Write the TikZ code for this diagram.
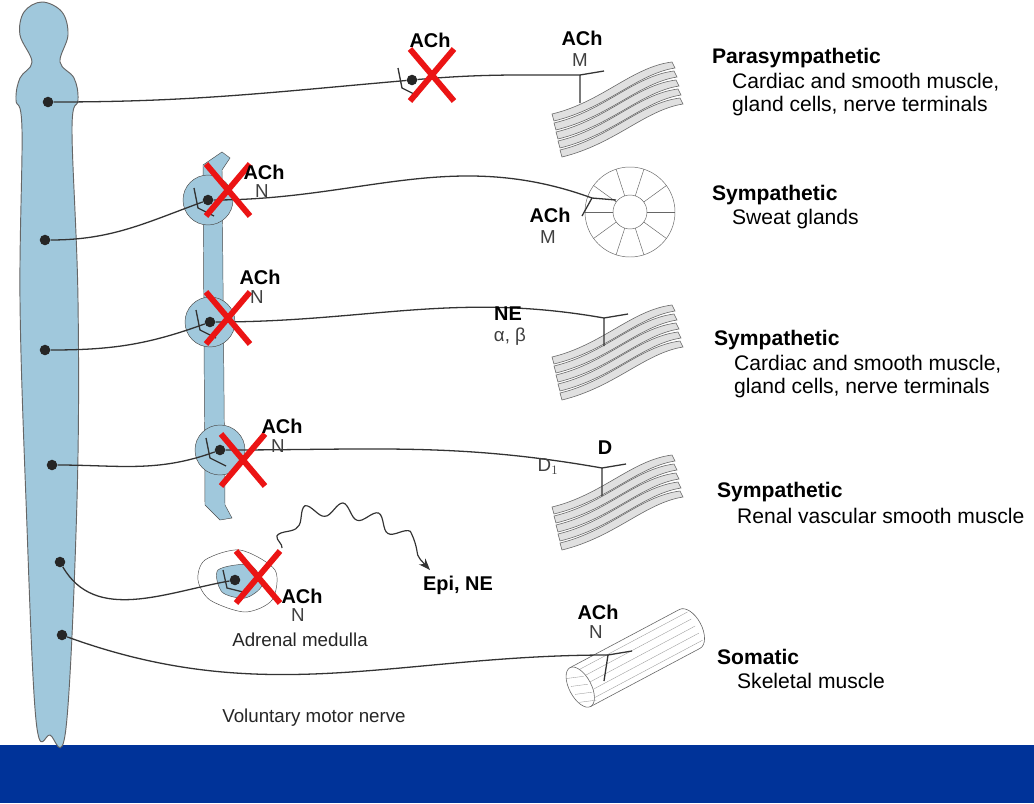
\documentclass[tikz,border=0pt]{standalone}
\usepackage{fontspec}
\setmainfont{Liberation Sans}
\usetikzlibrary{decorations.pathmorphing,arrows.meta}
\definecolor{cordblue}{RGB}{160,200,220}
\definecolor{barblue}{RGB}{0,51,153}
\definecolor{xred}{RGB}{235,20,20}
\begin{document}
\begin{tikzpicture}[x=0.03cm,y=-0.03cm,
    dot/.style={circle, fill=black!85, inner sep=0pt, minimum size=9pt},
    nerve/.style={black!80, line width=1.1pt},
    tissue/.style={draw=black!60, fill=black!12, line width=0.5pt},
    ganglion/.style={circle, draw=black!70, fill=cordblue, minimum size=50*0.03cm, inner sep=0pt},
    title/.style={anchor=west, font=\bfseries\fontsize{18}{20}\selectfont},
    sub/.style={anchor=west, font=\fontsize{18}{20}\selectfont},
    tx/.style={font=\bfseries\fontsize{17}{18}\selectfont},
    rc/.style={font=\fontsize{16}{18}\selectfont, text=black!75},
    cross/.style={xred, line width=5pt},
    muscle/.pic={
      \foreach \i in {0,...,4}
        \draw[tissue, shift={(\i*2,\i*9)}] (-60,22) .. controls (-10,10) and (20,-25) .. (60,-30)
          -- (63,-24) .. controls (25,-18) and (-5,16) .. (-58,29) -- cycle;
    }
  ]
    \useasboundingbox (0,0) rectangle (1034,803);
    \fill[white] (0,0) rectangle (1034,803);
    \fill[barblue] (0,745) rectangle (1034,803);

    % Spinal cord
    \draw[black!60, fill=cordblue, line width=0.8pt] plot[smooth cycle, tension=0.6] coordinates {
      (42,2) (62,12) (68,35) (60,62) (74,78) (78,100) (72,130) (78,300) (77,500) (66,728) (50,735)
      (36,720) (26,500) (20,300) (22,130) (16,100) (20,78) (32,62) (20,35) (24,12)};
    \foreach \n/\x/\y in {1/48/102, 2/45/240, 3/45/350, 4/52/465, 5/60/562, 6/62/635}
      \node[dot] (d\n) at (\x,\y) {};

    % Sympathetic chain
    \draw[black!70, fill=cordblue] (203,165) -- (222,152) -- (230,158) -- (222,170)
      -- (225,505) -- (232,518) -- (220,520) -- (205,505) -- cycle;
    \node[ganglion] (g2) at (208,200) {};
    \node[ganglion] (g3) at (210,322) {};
    \node[ganglion] (g4) at (220,450) {};
    \foreach \g in {g2,g3,g4}
      \node[dot] (\g d) at (\g) {};
    \node[dot] (g1d) at (412,80) {};

    % synapse forks at ganglia
    \foreach \g in {g1d,g2d,g3d,g4d}
      \draw[nerve] (\g)+(-14,-12) -- +(-10,8) -- +(6,16);

    % Preganglionic
    \draw[nerve] (d1) to[out=0,in=185] (g1d);
    \draw[nerve] (d2) to[out=0,in=200] (g2d);
    \draw[nerve] (d3) to[out=0,in=200] (g3d);
    \draw[nerve] (d4) to[out=0,in=200] (g4d);

    % Effectors
    \pic at (612,92) {muscle};
    \pic at (612,335) {muscle};
    \pic at (612,485) {muscle};
    \draw[black!60, fill=white] (630,212) circle (45) ;
    \draw[black!60] (630,212) circle (17);
    \foreach \a in {0,36,...,324}
      \draw[black!60] (630,212) ++(\a:17) -- ++(\a:28);

    \coordinate (e1) at (580,75);
    \coordinate (e2) at (592,198);
    \coordinate (e3) at (604,318);
    \coordinate (e4) at (602,468);
    \coordinate (e6) at (608,655);
    \draw[nerve] (g1d) to[out=5,in=180] (e1);
    \draw[nerve] (g2d) to[out=0,in=160] (e2);
    \draw[nerve] (g3d) to[out=0,in=170] (e3);
    \draw[nerve] (g4d) to[out=0,in=170] (e4);
    \foreach \e in {e1,e3,e4}
      \draw[nerve] (\e) -- ++(0,28) (\e) -- ++(24,-4);
    \draw[nerve] (e2) -- ++(-10,18) (e2) -- ++(24,2);

    % Somatic muscle
    \begin{scope}[shift={(635,658)}, rotate=28]
      \draw[tissue, fill=white] (-62,-22) -- (62,-22) arc (-90:90:12 and 22) -- (-62,22);
      \foreach \t in {-16,-8,...,16}
        \draw[black!40, line width=0.3pt] (-55,\t) -- (68,\t);
      \draw[tissue, fill=white] (-62,0) ellipse (11 and 22);
      \foreach \t in {-14,-5,4,13}
        \draw[black!40, line width=0.3pt] (-70,\t) -- (-54,\t+6);
    \end{scope}
    \draw[nerve] (d6) to[out=-20,in=180] (e6);
    \draw[nerve] (e6) -- ++(-4,26) (e6) -- ++(24,-4);

    % Adrenal medulla
    \draw[black!70, fill=white] plot[smooth cycle] coordinates {
      (205,560) (240,550) (275,570) (272,600) (245,612) (210,600) (198,580)};
    \draw[black!70, fill=cordblue] plot[smooth cycle] coordinates {
      (218,570) (250,565) (262,585) (245,598) (222,592)};
    \node[dot] (am) at (235,580) {};
    \draw[nerve] (am)+(-12,-10) -- +(-8,8) -- +(8,12);
    \draw[nerve] (d5) to[out=-60,in=190] (am);
    \coordinate (w0) at (282,548);
    \coordinate (w1) at (430,570);
    \draw[black!80, line width=1pt, -{Stealth[length=10pt]},
      decorate, decoration={snake, amplitude=6, segment length=30, post length=12}]
      (w0) .. controls (290,500) and (380,510) .. (w1);

    % Blocks
    \foreach \x/\y in {432/75, 228/190, 228/318, 243/460, 258/577}
      \draw[cross] (\x-22,\y-26) -- (\x+22,\y+26) (\x+22,\y-26) -- (\x-22,\y+26);

    % Transmitters and receptors
    \node[tx] at (430,40) {ACh};
    \node[tx] at (582,38) {ACh}; \node[rc] at (580,60) {M};
    \node[tx] at (264,172) {ACh}; \node[rc] at (262,191) {N};
    \node[tx] at (550,215) {ACh}; \node[rc] at (548,237) {M};
    \node[tx] at (260,277) {ACh}; \node[rc] at (257,297) {N};
    \node[tx] at (508,314) {NE}; \node[rc] at (510,337) {α, β};
    \node[tx] at (282,426) {ACh}; \node[rc] at (278,446) {N};
    \node[tx] at (605,448) {D}; \node[rc] at (548,467) {D$_1$};
    \node[tx] at (302,596) {ACh}; \node[rc] at (298,615) {N};
    \node[rc, text=black!85] at (300,640) {Adrenal medulla};
    \node[tx] at (458,585) {Epi, NE};
    \node[tx] at (598,612) {ACh}; \node[rc] at (596,632) {N};
    \node[rc, text=black!85] at (314,718) {Voluntary motor nerve};

    % Targets
    \node[title] at (708,58) {Parasympathetic};
    \node[sub] at (728,82) {Cardiac and smooth muscle,};
    \node[sub] at (728,106) {gland cells, nerve terminals};
    \node[title] at (708,195) {Sympathetic};
    \node[sub] at (728,219) {Sweat glands};
    \node[title] at (710,340) {Sympathetic};
    \node[sub] at (730,364) {Cardiac and smooth muscle,};
    \node[sub] at (730,388) {gland cells, nerve terminals};
    \node[title] at (713,492) {Sympathetic};
    \node[sub] at (733,516) {Renal vascular smooth muscle};
    \node[title] at (713,657) {Somatic};
    \node[sub] at (733,681) {Skeletal muscle};
\end{tikzpicture}
\end{document}
